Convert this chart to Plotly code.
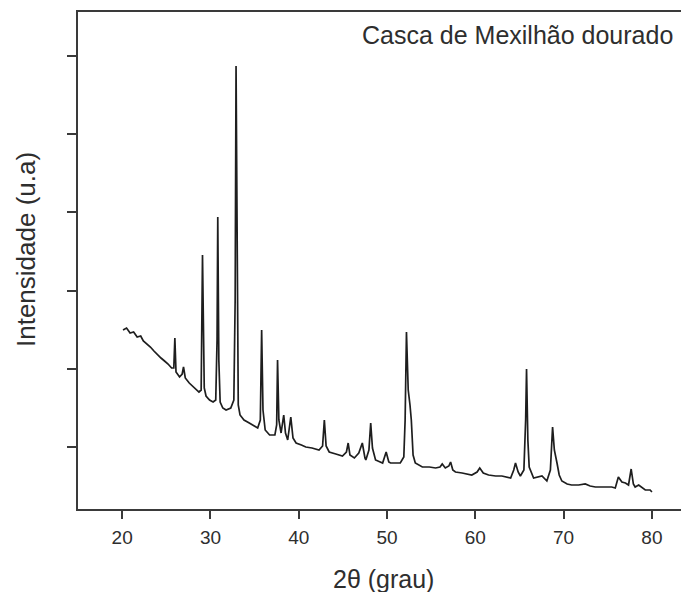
import plotly.graph_objects as go

# 2-theta (degrees) and intensity (arbitrary units)
two_theta = [
    20.1, 20.5, 20.9, 21.3, 21.7, 22.1, 22.4, 22.8, 23.2, 23.6, 24.0, 24.4, 24.8, 25.2, 25.6,
    25.85, 25.97, 26.1, 26.5, 26.8, 26.95, 27.15, 27.6, 28.1, 28.7, 28.95, 29.1, 29.3, 29.5,
    29.9, 30.3, 30.6, 30.75, 30.83, 30.95, 31.1, 31.4, 31.77, 32.3, 32.65, 32.8, 32.9, 33.0,
    33.15, 33.35, 33.8, 34.4, 35.0, 35.35, 35.65, 35.8, 35.95, 36.2, 36.7, 37.3, 37.5, 37.6,
    37.75, 38.0, 38.3, 38.5, 38.75, 39.1, 39.35, 39.7, 40.3, 40.8, 41.5, 42.3, 42.7, 42.9,
    43.1, 43.45, 44.2, 44.95, 45.4, 45.6, 45.8, 46.3, 46.8, 47.2, 47.5, 47.6, 47.95, 48.15,
    48.35, 48.7, 49.5, 49.9, 50.2, 50.4, 51.0, 51.5, 51.9, 52.05, 52.2, 52.4, 52.6, 52.75,
    52.95, 53.2, 54.0, 54.8, 55.5, 56.0, 56.25, 56.6, 57.0, 57.2, 57.45, 57.75, 58.5, 59.6,
    60.2, 60.5, 60.9, 61.5, 62.3, 63.0, 64.0, 64.35, 64.55, 64.85, 65.1, 65.5, 65.7, 65.8,
    65.95, 66.1, 66.6, 67.1, 67.55, 68.1, 68.5, 68.75, 68.95, 69.25, 69.5, 69.8, 70.4, 70.9,
    71.7, 72.45, 73.0, 73.6, 74.5, 75.45, 75.85, 76.2, 76.6, 77.0, 77.35, 77.65, 77.9, 78.1,
    78.5, 78.85, 79.25, 79.8, 80.0,
]
intensity = [
    1790, 1810, 1760, 1770, 1720, 1730, 1680, 1650, 1620, 1580, 1540, 1510, 1480, 1450, 1410,
    1410, 1710, 1370, 1320, 1350, 1420, 1310, 1260, 1220, 1170, 1190, 2540, 1210, 1130,
    1090, 1070, 1090, 1690, 2920, 1490, 1070, 1010, 990, 1010, 1090, 2090, 4430, 3090,
    1040, 940, 890, 860, 830, 810, 890, 1790, 990, 790, 740, 740, 840, 1490,
    890, 760, 940, 760, 690, 920, 710, 660, 640, 620, 610, 590, 630, 890,
    630, 570, 550, 530, 570, 660, 540, 510, 560, 660, 510, 490, 590, 860,
    610, 490, 460, 570, 470, 460, 460, 460, 520, 890, 1770, 1190, 1040, 890,
    540, 460, 420, 420, 410, 420, 450, 410, 430, 470, 390, 370, 360, 340,
    370, 410, 360, 340, 330, 330, 310, 390, 460, 370, 330, 390, 890, 1400,
    690, 420, 310, 320, 330, 280, 390, 820, 590, 460, 340, 280, 250, 240,
    240, 250, 230, 220, 220, 220, 210, 320, 270, 260, 240, 400, 250, 220,
    240, 220, 190, 190, 170,
]

x_tick_values = [20, 30, 40, 50, 60, 70, 80]
x_tick_labels = ["20", "30", "40", "50", "60", "70", "80"]

sample_label = "Casca de Mexilhão dourado"
x_title = "2θ (grau)"
y_title = "Intensidade (u.a)"

FONT = "Liberation Sans, Arial, sans-serif"
AXIS_COLOR = "#3a3a3a"
TEXT_COLOR = "#2e2e2e"
# the page body adds an 8 px offset, so the figure is 8 px smaller than the window
W, H = 681, 584
L, R, T, B = 70, 0, 4, 83

fig = go.Figure()
fig.add_trace(go.Scatter(
    x=two_theta, y=intensity, mode="lines",
    line=dict(color="#1e1e1e", width=1.7),
    showlegend=False, hoverinfo="skip",
))

fig.update_layout(
    width=W, height=H,
    margin=dict(l=L, r=R, t=T, b=B, pad=0),
    paper_bgcolor="white", plot_bgcolor="white",
    font=dict(family=FONT, color=TEXT_COLOR),
    showlegend=False,
)

fig.update_xaxes(
    range=[15, 84.2],
    tickmode="array", tickvals=x_tick_values, ticktext=x_tick_labels,
    ticks="outside", ticklen=8, tickwidth=1.5, tickcolor=AXIS_COLOR,
    tickfont=dict(size=19, family=FONT, color=TEXT_COLOR),
    ticklabelstandoff=2,
    showline=True, linecolor=AXIS_COLOR, linewidth=2, mirror=True,
    showgrid=False, zeroline=False,
)
fig.update_yaxes(
    range=[0, 4970],
    tickmode="linear", tick0=620, dtick=782,
    ticks="outside", ticklen=9, tickwidth=1.5, tickcolor=AXIS_COLOR,
    showticklabels=False,
    showline=True, linecolor=AXIS_COLOR, linewidth=2, mirror=False,
    showgrid=False, zeroline=False,
)

plot_w = W - L - R
plot_h = H - T - B
bottom = H - B

fig.add_annotation(
    text=sample_label, xref="paper", yref="paper",
    x=(667 - L) / plot_w, y=(bottom - 27) / plot_h,
    xanchor="right", yanchor="middle", showarrow=False,
    font=dict(size=25, family=FONT, color=TEXT_COLOR),
)
fig.add_annotation(
    text=x_title, xref="paper", yref="paper",
    x=0.5, y=(bottom - 571) / plot_h,
    xanchor="center", yanchor="middle", showarrow=False,
    font=dict(size=25, family=FONT, color=TEXT_COLOR),
)
fig.add_annotation(
    text=y_title, xref="paper", yref="paper",
    x=(18 - L) / plot_w, y=(bottom - 242) / plot_h, textangle=-90,
    xanchor="center", yanchor="middle", showarrow=False,
    font=dict(size=26, family=FONT, color=TEXT_COLOR),
)

fig.write_html("out.html")
